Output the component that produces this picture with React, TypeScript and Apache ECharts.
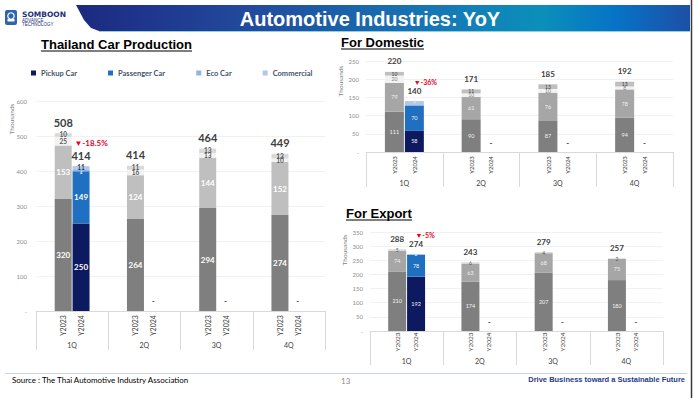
import React, { useEffect, useRef } from "react";
import * as echarts from "echarts";

// ---------- DATA (thousand units) ----------
const quarters = ["1Q", "2Q", "3Q", "4Q"];
const years = ["Y2023", "Y2024"];
const legendNames = ["Pickup Car", "Passenger Car", "Eco Car", "Commercial"];

// Thailand Car Production
const prodPickup23 = [320, 264, 294, 274];
const prodPassenger23 = [153, 124, 144, 152];
const prodEco23 = [25, 16, 13, 10];
const prodCommercial23 = [10, 11, 13, 13];
const prodTotal23 = [508, 414, 464, 449];
const prodPickup24 = [250, null, null, null];
const prodPassenger24 = [149, null, null, null];
const prodEco24 = [4, null, null, null];
const prodCommercial24 = [11, null, null, null];
const prodTotal24 = [414, null, null, null];
const prodYoY = ["-18.5%", "", "", ""];

// For Domestic
const domPickup23 = [111, 90, 87, 94];
const domPassenger23 = [79, 61, 76, 78];
const domEco23 = [20, 10, 10, 8];
const domCommercial23 = [10, 11, 13, 13];
const domTotal23 = [220, 171, 185, 192];
const domPickup24 = [58, null, null, null];
const domPassenger24 = [70, null, null, null];
const domEco24 = [1, null, null, null];
const domCommercial24 = [11, null, null, null];
const domTotal24 = [140, null, null, null];
const domYoY = ["-36%", "", "", ""];

// For Export
const expPickup23 = [210, 174, 207, 180];
const expPassenger23 = [74, 63, 68, 75];
const expOther23 = [5, 6, 4, 2];
const expTotal23 = [288, 243, 279, 257];
const expPickup24 = [192, null, null, null];
const expPassenger24 = [78, null, null, null];
const expOther24 = [2, null, null, null];
const expTotal24 = [274, null, null, null];
const expYoY = ["-5%", "", "", ""];

// ---------- STYLE ----------
const FONT = 'Lato, "Open Sans", "Noto Sans", sans-serif';
const TFONT = '"Liberation Sans", Arial, sans-serif';

type Seg = { name: string; data: (number | null)[]; color: string; lbl: any };

function segSeries(g: number, stack: string, segs: Seg[], barWidth: number) {
  return segs.map((s) => ({
    name: s.name,
    type: "bar",
    xAxisIndex: g,
    yAxisIndex: g,
    stack,
    barWidth,
    barGap: "5%",
    data: s.data.map((v) => (v == null ? "-" : v)),
    itemStyle: { color: s.color },
    label: {
      show: true,
      position: "inside",
      fontFamily: FONT,
      formatter: (p: any) => (p.value ? String(p.value) : ""),
      ...s.lbl,
    },
  }));
}

function totalSeries(
  g: number,
  stack: string,
  name: string,
  totals: (number | null)[],
  yoy: string[] | null,
  barWidth: number,
  tSize: number,
  rSize: number,
  dist: number,
  dashDist: number,
  redPad: number
) {
  return {
    name,
    type: "bar",
    xAxisIndex: g,
    yAxisIndex: g,
    stack,
    barWidth,
    barGap: "5%",
    itemStyle: { color: "rgba(0,0,0,0)" },
    silent: true,
    data: totals.map((t, i) => {
      if (t == null) return { value: 0, label: { formatter: "{d|-}", distance: dashDist } };
      const txt = yoy && yoy[i] ? `{r|▼${yoy[i]}}\n{t|${t}}` : `{t|${t}}`;
      return { value: 0, label: { formatter: txt } };
    }),
    label: {
      show: true,
      position: "top",
      distance: dist,
      rich: {
        t: { fontFamily: FONT, fontSize: tSize, fontWeight: "bold", color: "#404040", lineHeight: tSize + 1 },
        r: {
          fontFamily: FONT,
          fontSize: rSize,
          fontWeight: "bold",
          color: "#e8001c",
          lineHeight: tSize + 1,
          padding: [0, 0, 0, redPad],
        },
        d: { fontFamily: FONT, fontSize: 8, fontWeight: "bold", color: "#404040", lineHeight: 8 },
      },
    },
  };
}

function yearLabels(g: number, offset: number, dy: number, size: number) {
  return {
    type: "custom",
    xAxisIndex: g,
    yAxisIndex: g,
    silent: true,
    clip: false,
    z: 10,
    encode: { x: 0, y: 1 },
    data: quarters.flatMap((_, i) => years.map((__, j) => [i, 0, j])),
    renderItem: (_p: any, api: any) => {
      const c = api.coord([api.value(0), 0]);
      const j = api.value(2);
      return {
        type: "text",
        x: c[0] + (j === 0 ? -offset : offset),
        y: c[1] + dy,
        rotation: Math.PI / 2,
        style: {
          text: years[j],
          fontSize: size,
          fontFamily: FONT,
          fill: "#404040",
          align: "center",
          verticalAlign: "middle",
        },
      };
    },
  };
}

function xAx(g: number, tickLen: number, margin: number) {
  return {
    type: "category",
    gridIndex: g,
    data: quarters,
    axisLine: { lineStyle: { color: "#d9d9d9" } },
    axisTick: { show: true, interval: 0, length: tickLen, lineStyle: { color: "#d9d9d9" } },
    axisLabel: { margin, fontSize: 7, color: "#404040", fontFamily: FONT, interval: 0 },
  };
}

function yAx(g: number, max: number, interval: number, margin: number) {
  return {
    type: "value",
    gridIndex: g,
    min: 0,
    max,
    interval,
    axisLine: { show: false },
    axisTick: { show: false },
    splitLine: { lineStyle: { color: "#eeeeee", width: 0.8 } },
    axisLabel: {
      fontSize: 6,
      color: "#8c8c8c",
      margin,
      fontFamily: FONT,
      formatter: (v: number) => (v === 0 ? "-" : String(v)),
    },
  };
}

const bigMain = { color: "#ffffff", fontSize: 8, fontWeight: "bold" };
const smallMain = { color: "#595959", fontSize: 6.5, fontWeight: "bold" };
const bigSub = { color: "#f2f2f2", fontSize: 5.5 };
const smallSub = { color: "#7f7f7f", fontSize: 5 };
const C_PICK = "#0d1a60";
const C_PASS = "#1f70c0";
const C_ECO = "#8fb4e3";
const C_COM = "#b4c7e7";

function buildOption() {
  const series: any[] = [
    // main
    ...segSeries(0, "p23", [
      { name: "p23a", data: prodPickup23, color: "#7f7f7f", lbl: bigMain },
      { name: "p23b", data: prodPassenger23, color: "#bfbfbf", lbl: bigMain },
      { name: "p23c", data: prodEco23, color: "#f2f2f2", lbl: smallMain },
      { name: "p23d", data: prodCommercial23, color: "#d9d9d9", lbl: smallMain },
    ], 17),
    totalSeries(0, "p23", "p23t", prodTotal23, null, 17, 11, 8, 5, 6, 0),
    ...segSeries(0, "p24", [
      { name: legendNames[0], data: prodPickup24, color: C_PICK, lbl: bigMain },
      { name: legendNames[1], data: prodPassenger24, color: C_PASS, lbl: bigMain },
      { name: legendNames[2], data: prodEco24, color: C_ECO, lbl: { ...smallMain, color: "#ffffff", fontSize: 4, offset: [0, 1.5] } },
      { name: legendNames[3], data: prodCommercial24, color: C_COM, lbl: { ...smallMain, color: "#1f3864", offset: [0, -1] } },
    ], 17),
    totalSeries(0, "p24", "p24t", prodTotal24, prodYoY, 17, 11, 8, 5, 6, 20),
    yearLabels(0, 9, 14.5, 7),
    // domestic
    ...segSeries(1, "d23", [
      { name: "d23a", data: domPickup23, color: "#7f7f7f", lbl: bigSub },
      { name: "d23b", data: domPassenger23, color: "#a6a6a6", lbl: bigSub },
      { name: "d23c", data: domEco23, color: "#f2f2f2", lbl: smallSub },
      { name: "d23d", data: domCommercial23, color: "#bfbfbf", lbl: { ...smallSub, color: "#404040" } },
    ], 19),
    totalSeries(1, "d23", "d23t", domTotal23, null, 19, 8, 7, 6, 5, 0),
    ...segSeries(1, "d24", [
      { name: "d24a", data: domPickup24, color: C_PICK, lbl: bigSub },
      { name: "d24b", data: domPassenger24, color: C_PASS, lbl: bigSub },
      { name: "d24c", data: domEco24, color: C_COM, lbl: { ...bigSub, offset: [0, -4] } },
      { name: "d24d", data: domCommercial24, color: C_COM, lbl: { show: false } },
    ], 19),
    totalSeries(1, "d24", "d24t", domTotal24, domYoY, 19, 8, 7, 6, 5, 22),
    yearLabels(1, 9.7, 13, 6),
    // export
    ...segSeries(2, "e23", [
      { name: "e23a", data: expPickup23, color: "#7f7f7f", lbl: bigSub },
      { name: "e23b", data: expPassenger23, color: "#a6a6a6", lbl: bigSub },
      { name: "e23c", data: expOther23, color: "#d9d9d9", lbl: { ...smallSub, color: "#595959" } },
    ], 18),
    totalSeries(2, "e23", "e23t", expTotal23, null, 18, 8, 7, 6, 5, 0),
    ...segSeries(2, "e24", [
      { name: "e24a", data: expPickup24, color: C_PICK, lbl: bigSub },
      { name: "e24b", data: expPassenger24, color: C_PASS, lbl: bigSub },
      { name: "e24c", data: expOther24, color: C_COM, lbl: { ...smallSub, color: "#ffffff" } },
    ], 18),
    totalSeries(2, "e24", "e24t", expTotal24, expYoY, 18, 8, 7, 6, 5, 18),
    yearLabels(2, 9, 11, 6.5),
  ];

  const graphic: any[] = [
    // header band
    {
      type: "polygon",
      shape: { points: [[76, 5], [690, 5], [690, 31], [99, 31], [91, 28], [84, 20]] },
      style: {
        fill: new echarts.graphic.LinearGradient(0, 0, 1, 0, [
          { offset: 0, color: "#1c2980" },
          { offset: 0.3, color: "#224c9f" },
          { offset: 0.6, color: "#147ab6" },
          { offset: 0.76, color: "#0b8fba" },
          { offset: 0.88, color: "#0673c6" },
          { offset: 1, color: "#1e4fa6" },
        ]),
      },
    },
    { type: "line", shape: { x1: 99, y1: 31.5, x2: 690, y2: 31.5 }, style: { stroke: "#8fd0e8", lineWidth: 1 } },
    {
      type: "text",
      x: 370,
      y: 19,
      style: { text: "Automotive Industries: YoY", fill: "#ffffff", fontSize: 20, fontWeight: "bold", fontFamily: TFONT, align: "center", verticalAlign: "middle" },
    },
    // right border
    { type: "line", shape: { x1: 691.5, y1: 0, x2: 691.5, y2: 398 }, style: { stroke: "#3a3a3a", lineWidth: 1.5 } },
    // logo
    { type: "rect", shape: { x: 5, y: 10, width: 12, height: 15, r: 2 }, style: { fill: "#2f62b0" } },
    { type: "circle", shape: { cx: 11, cy: 16, r: 3.2 }, style: { fill: "none", stroke: "#ffffff", lineWidth: 1.2 } },
    { type: "rect", shape: { x: 7.5, y: 19, width: 7, height: 2.5 }, style: { fill: "#ffffff" } },
    { type: "text", x: 22, y: 14.5, style: { text: "SOMBOON", fill: "#1c2f7a", fontSize: 7.5, fontWeight: "bold", fontFamily: '"DejaVu Sans", sans-serif', verticalAlign: "middle" } },
    { type: "text", x: 22, y: 20, style: { text: "ADVANCE", fill: "#1c2f7a", fontSize: 4.5, fontFamily: TFONT, verticalAlign: "middle" } },
    { type: "text", x: 22, y: 24.5, style: { text: "TECHNOLOGY", fill: "#1c2f7a", fontSize: 4.5, fontFamily: TFONT, verticalAlign: "middle" } },
    // section titles
    { type: "text", x: 41, y: 44.5, style: { text: "Thailand Car Production", fill: "#000000", fontSize: 13, fontWeight: "bold", fontFamily: TFONT, verticalAlign: "middle" } },
    { type: "line", shape: { x1: 41, y1: 51, x2: 192, y2: 51 }, style: { stroke: "#000000", lineWidth: 1.2 } },
    { type: "text", x: 341, y: 42.5, style: { text: "For Domestic", fill: "#000000", fontSize: 13, fontWeight: "bold", fontFamily: TFONT, verticalAlign: "middle" } },
    { type: "line", shape: { x1: 341, y1: 49, x2: 424, y2: 49 }, style: { stroke: "#000000", lineWidth: 1.2 } },
    { type: "text", x: 346, y: 213.5, style: { text: "For Export", fill: "#000000", fontSize: 13, fontWeight: "bold", fontFamily: TFONT, verticalAlign: "middle" } },
    { type: "line", shape: { x1: 346, y1: 220, x2: 412, y2: 220 }, style: { stroke: "#000000", lineWidth: 1.2 } },
    // axis names
    { type: "text", x: 11, y: 119, rotation: Math.PI / 2, style: { text: "Thousands", fill: "#7f7f7f", fontSize: 6.5, fontFamily: FONT, align: "center", verticalAlign: "middle" } },
    { type: "text", x: 340, y: 81, rotation: Math.PI / 2, style: { text: "Thousands", fill: "#7f7f7f", fontSize: 6.5, fontFamily: FONT, align: "center", verticalAlign: "middle" } },
    { type: "text", x: 344, y: 250, rotation: Math.PI / 2, style: { text: "Thousands", fill: "#7f7f7f", fontSize: 6.5, fontFamily: FONT, align: "center", verticalAlign: "middle" } },
    // footer
    { type: "line", shape: { x1: 5, y1: 373.5, x2: 687, y2: 373.5 }, style: { stroke: "#c9d3df", lineWidth: 1 } },
    { type: "text", x: 12, y: 380, style: { text: "Source : The Thai Automotive Industry Association", fill: "#000000", fontSize: 8, fontFamily: FONT, verticalAlign: "middle" } },
    { type: "text", x: 341, y: 381, style: { text: "13", fill: "#8c8c8c", fontSize: 8, fontFamily: FONT, verticalAlign: "middle" } },
    { type: "text", x: 685, y: 379, style: { text: "Drive Business toward a Sustainable Future", fill: "#1f3a8a", fontSize: 7.5, fontWeight: "bold", fontFamily: TFONT, align: "right", verticalAlign: "middle" } },
  ];

  return {
    animation: false,
    backgroundColor: "#ffffff",
    legend: {
      data: legendNames,
      left: 26,
      top: 64,
      icon: "rect",
      itemWidth: 5,
      itemHeight: 5,
      itemGap: 31,
      selectedMode: false,
      textStyle: { fontSize: 7.5, color: "#44546a", fontWeight: "bold", fontFamily: FONT },
    },
    grid: [
      { left: 36, right: 369, top: 101, bottom: 87 },
      { left: 366, right: 21, top: 61, bottom: 246 },
      { left: 370, right: 31, top: 232, bottom: 67 },
    ],
    xAxis: [xAx(0, 39, 30), xAx(1, 35, 27), xAx(2, 34, 26)],
    yAxis: [yAx(0, 600, 100, 9), yAx(1, 250, 50, 7), yAx(2, 350, 50, 7)],
    series,
    graphic,
  };
}

export default function App() {
  const ref = useRef<HTMLDivElement>(null);
  useEffect(() => {
    if (!ref.current) return;
    const chart = echarts.init(ref.current, null, { renderer: "svg" });
    chart.setOption(buildOption() as any);
    return () => chart.dispose();
  }, []);
  return (
    <div
      ref={ref}
      style={{ position: "fixed", left: 0, top: 0, width: 694, height: 398, background: "#fff" }}
    />
  );
}
